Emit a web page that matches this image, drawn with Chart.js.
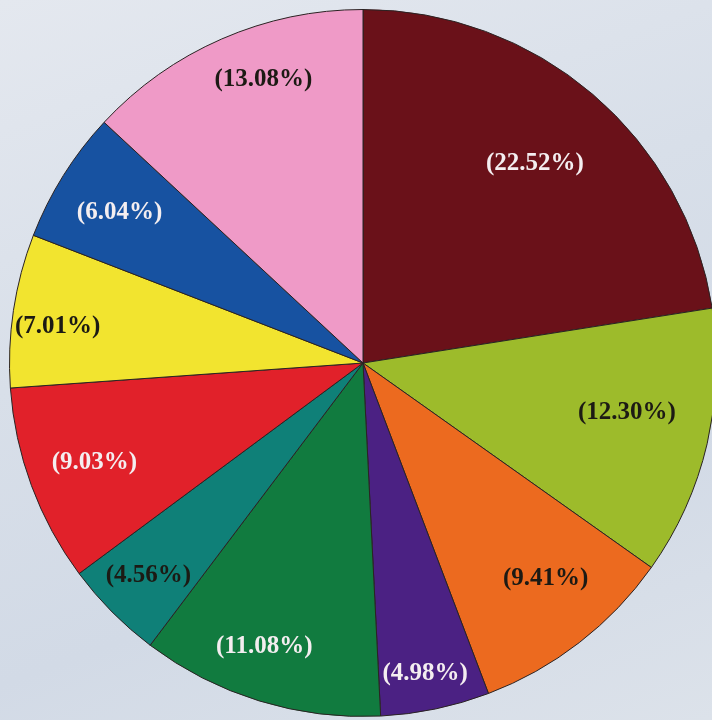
<!DOCTYPE html>
<html>
<head>
<meta charset="utf-8">
<script src="https://cdn.jsdelivr.net/npm/chart.js@4/dist/chart.umd.min.js"></script>
<style>
  html, body {
    margin: 0;
    padding: 0;
    width: 712px;
    height: 720px;
    overflow: hidden;
    background: linear-gradient(160deg, #e4e8ef 0%, #d8dfe9 40%, #d2dae6 70%, #dce2ea 100%);
  }
  #wrap {
    position: absolute;
    left: 0;
    top: 0;
    width: 726px;
    height: 726px;
  }
</style>
</head>
<body>
<div id="wrap"><canvas id="pieChart"></canvas></div>
<script>
// share of each slice, clockwise from 12 o'clock
const shares = [22.52, 12.30, 9.41, 4.98, 11.08, 4.56, 9.03, 7.01, 6.04, 13.08];
const sliceLabels = ['(22.52%)', '(12.30%)', '(9.41%)', '(4.98%)', '(11.08%)',
                     '(4.56%)', '(9.03%)', '(7.01%)', '(6.04%)', '(13.08%)'];

const sliceColors = ['#6a1119', '#9dbb2b', '#ec6a1f', '#4b2183', '#117b3f',
                     '#0f8078', '#e1212a', '#f2e42f', '#1752a1', '#ef9ac7'];
const textColors = ['#f4eef0', '#1c1a14', '#1c1a14', '#f4eef0', '#f4eef0',
                    '#1c1a14', '#f4eef0', '#1c1a14', '#f4eef0', '#1c1a14'];
// label placement: fraction of radius, and a small turn (degrees) off the slice middle
const labelRadius = [0.745, 0.76, 0.80, 0.895, 0.85, 0.855, 0.81, 0.87, 0.81, 0.85];
const labelTurn = [0.2, -2.5, -2.5, 0.5, 2.1, 0, 0, -1.7, -0.3, 4.2];

const sliceText = {
  id: 'sliceText',
  afterDatasetsDraw(chart) {
    const ctx = chart.ctx;
    const arcs = chart.getDatasetMeta(0).data;
    ctx.save();
    ctx.font = 'bold 25px "Liberation Serif", "Times New Roman", serif';
    ctx.textAlign = 'center';
    ctx.textBaseline = 'middle';
    arcs.forEach((arc, i) => {
      const mid = (arc.startAngle + arc.endAngle) / 2 + labelTurn[i] * Math.PI / 180;
      const r = arc.outerRadius * labelRadius[i];
      ctx.fillStyle = textColors[i];
      ctx.fillText(sliceLabels[i], arc.x + Math.cos(mid) * r, arc.y + Math.sin(mid) * r);
    });
    ctx.restore();
  }
};

new Chart(document.getElementById('pieChart'), {
  type: 'pie',
  data: {
    labels: sliceLabels,
    datasets: [{
      data: shares,
      backgroundColor: sliceColors,
      borderColor: '#2a2222',
      borderWidth: 1,
    }],
  },
  options: {
    responsive: true,
    maintainAspectRatio: false,
    animation: false,
    layout: { padding: 9 },
    plugins: {
      legend: { display: false },
      tooltip: { enabled: false },
    },
  },
  plugins: [sliceText],
});
</script>
</body>
</html>
